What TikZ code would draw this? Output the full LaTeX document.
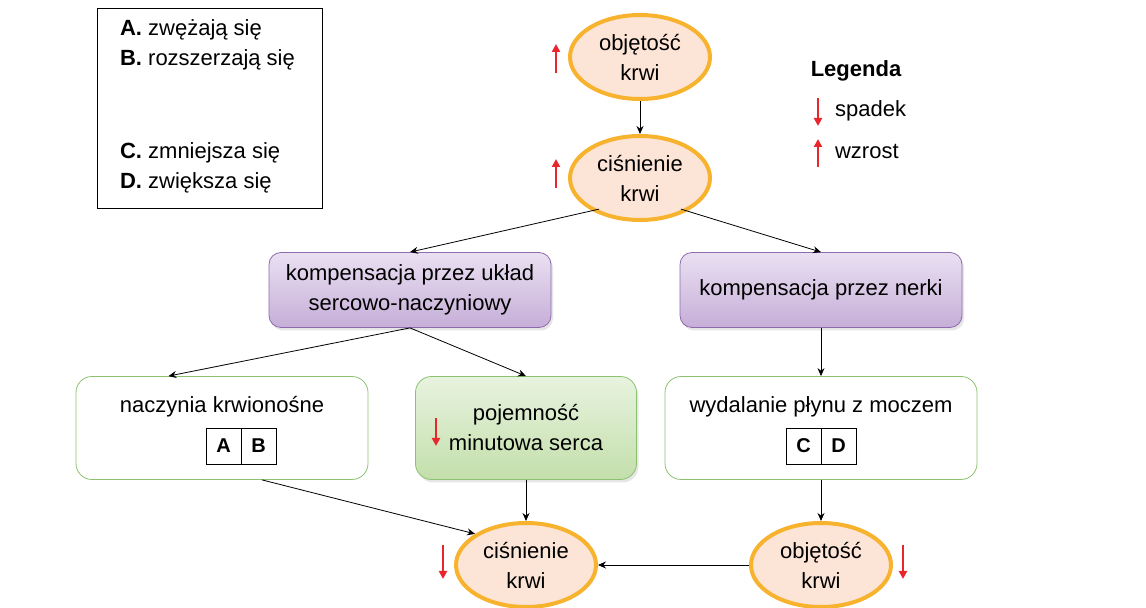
\documentclass[tikz,border=0pt]{standalone}
\usepackage{fontspec}
\setmainfont{Liberation Sans}
\usetikzlibrary{arrows.meta,shadows,shapes.geometric}
\definecolor{ellfill}{HTML}{FCE4D6}
\definecolor{elldraw}{HTML}{F7B22E}
\definecolor{purtop}{HTML}{EAE0F2}
\definecolor{purbot}{HTML}{C6AED8}
\definecolor{purdraw}{HTML}{8E6BAE}
\definecolor{grtop}{HTML}{E8F3DF}
\definecolor{grbot}{HTML}{C3DFAB}
\definecolor{grdraw}{HTML}{8CC26F}
\definecolor{arred}{HTML}{E8262B}
\tikzstyle{oval}=[ellipse,fill=ellfill,draw=elldraw,line width=2pt,minimum width=70pt,minimum height=42pt,inner sep=0pt,align=center]
\tikzstyle{purbox}=[rectangle,rounded corners=6pt,draw=purdraw,top color=purtop,bottom color=purbot,minimum width=141pt,minimum height=37.5pt,align=center,drop shadow={opacity=0.2,shadow xshift=1pt,shadow yshift=-1.5pt}]
\tikzstyle{wbox}=[rectangle,rounded corners=8pt,draw=grdraw,fill=white,minimum height=51.5pt,align=center]
\tikzstyle{gbox}=[rectangle,rounded corners=8pt,draw=grdraw,top color=grtop,bottom color=grbot,minimum width=110.5pt,minimum height=51.5pt,align=center,drop shadow={opacity=0.2,shadow xshift=1pt,shadow yshift=-1.5pt}]
\tikzstyle{cell}=[rectangle,draw=black,minimum width=17.5pt,minimum height=18pt,inner sep=0pt,font=\bfseries]
\tikzstyle{conn}=[-{Stealth[length=4pt,width=3.5pt]},thin]
\tikzstyle{rup}=[arred,line width=1.4pt,-{Triangle[length=4pt,width=4pt]}]
\begin{document}
\begin{tikzpicture}[x=0.5pt,y=-0.5pt,font=\fontsize{11}{15}\selectfont]
	\useasboundingbox (0,0) rectangle (1146,608);
	% legend box
	\node[draw,thin,minimum width=112.5pt,minimum height=100pt](keybox) at (209.5,108){};
	\node[anchor=west](kA) at (113,30){\textbf{A.} zwężają się};
	\node[anchor=west](kB) at (113,60){\textbf{B.} rozszerzają się};
	\node[anchor=west](kC) at (113,153){\textbf{C.} zmniejsza się};
	\node[anchor=west](kD) at (113,183){\textbf{D.} zwiększa się};

	\node[font=\fontsize{11}{15}\bfseries](legend) at (856,71){Legenda};
	\coordinate (sd1) at (818,98); \coordinate (sd2) at (818,126);
	\draw[rup] (sd1) -- (sd2);
	\node[anchor=west](spadek) at (828,111){spadek};
	\coordinate (wz1) at (818,167); \coordinate (wz2) at (818,139);
	\draw[rup] (wz1) -- (wz2);
	\node[anchor=west](wzrost) at (828,152){wzrost};

	% ovals
	\node[oval](vol1) at (640,57){objętość\\krwi};
	\node[oval](bp1) at (640,178){ciśnienie\\krwi};
	\node[oval](bp2) at (526,565){ciśnienie\\krwi};
	\node[oval](vol2) at (821,565){objętość\\krwi};
	\coordinate (u1a) at (556,73); \coordinate (u1b) at (556,44);
	\coordinate (u2a) at (556,188); \coordinate (u2b) at (556,159);
	\coordinate (d1a) at (443,545); \coordinate (d1b) at (443,579);
	\coordinate (d2a) at (903,545); \coordinate (d2b) at (903,579);
	\draw[rup] (u1a) -- (u1b);
	\draw[rup] (u2a) -- (u2b);
	\draw[rup] (d1a) -- (d1b);
	\draw[rup] (d2a) -- (d2b);

	% boxes
	\node[purbox](kscn) at (410,290){kompensacja przez układ\\sercowo-naczyniowy};
	\node[purbox](knrk) at (821,290){kompensacja przez nerki};
	\node[wbox,minimum width=146pt](vess) at (222,428){};
	\node(vesst) at (222,407){naczynia krwionośne};
	\node[gbox](card) at (526,428){pojemność\\minutowa serca};
	\coordinate (gda) at (436,418); \coordinate (gdb) at (436,446);
	\draw[rup] (gda) -- (gdb);
	\node[wbox,minimum width=156pt](urin) at (821,428){};
	\node(urint) at (821,407){wydalanie płynu z moczem};
	\node[cell](cA) at (223.5,446){A};
	\node[cell](cB) at (258.5,446){B};
	\node[cell](cC) at (803.5,446){C};
	\node[cell](cD) at (838.5,446){D};

	% connectors
	\draw[conn] (vol1) -- (bp1);
	\draw[conn] (bp1.south west) ++(10,0) coordinate (bpL) (bpL) -- (kscn.north);
	\draw[conn] (bp1.south east) ++(-10,0) coordinate (bpR) (bpR) -- (knrk.north);
	\draw[conn] (kscn.south) -- ([xshift=-100]vess.north east);
	\draw[conn] (kscn.south) -- (card.north);
	\draw[conn] (knrk) -- (urin);
	\draw[conn] ([xshift=20]vess.south) -- (bp2.north west);
	\draw[conn] (card) -- (bp2);
	\draw[conn] (urin) -- (vol2);
	\draw[conn] (vol2) -- (bp2);
\end{tikzpicture}
\end{document}
